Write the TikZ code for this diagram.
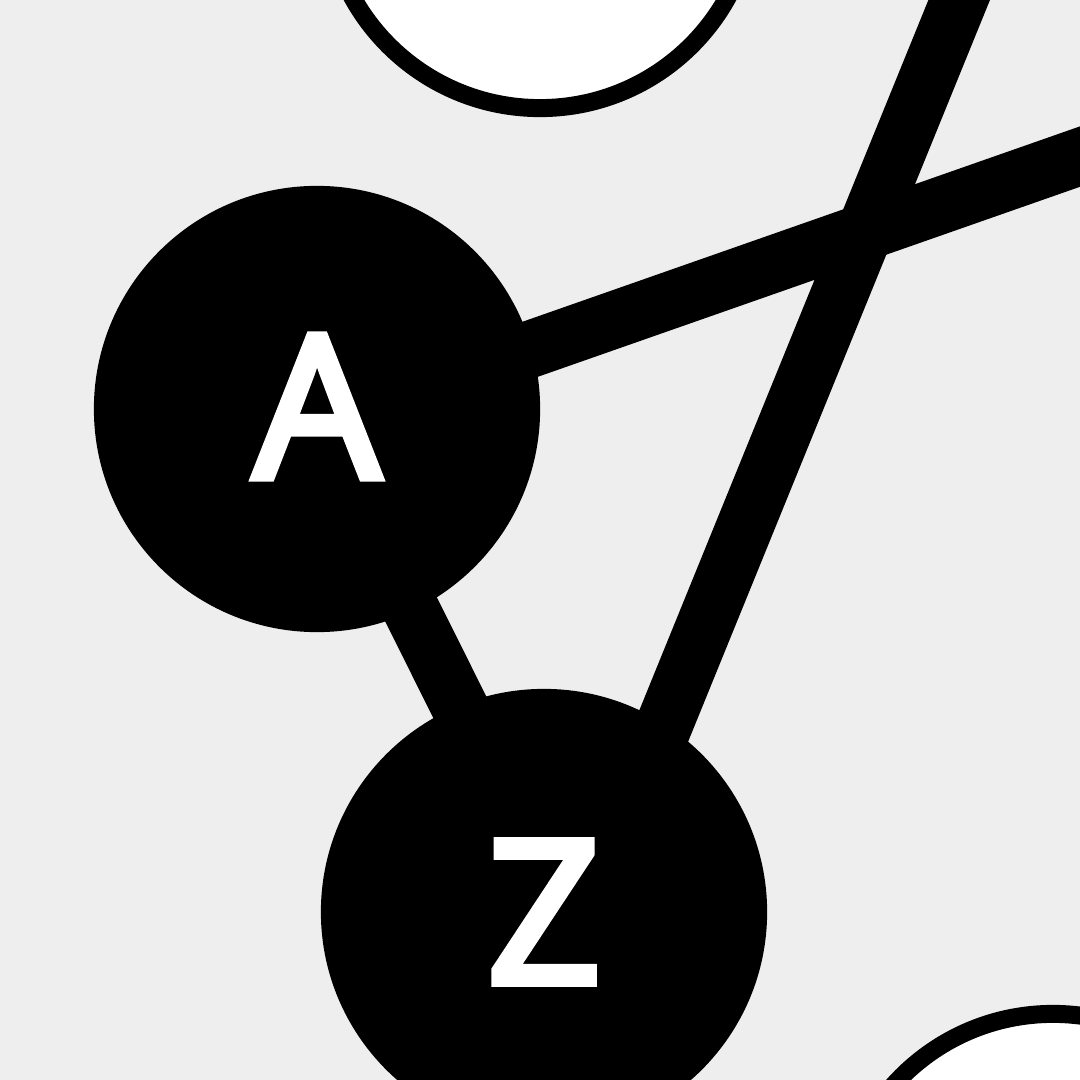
\documentclass[tikz,border=0pt]{standalone}
\usepackage{fontspec}
\newfontfamily\labfont{Open Sans}[FakeBold=4]
\usetikzlibrary{backgrounds}
\definecolor{bg}{HTML}{EEEEEE}
\begin{document}
\begin{tikzpicture}[x=0.01cm,y=-0.01cm,
  nd/.style={circle, draw=black, line width=0.18cm, minimum size=4.28cm, inner sep=0pt},
  blk/.style={nd, fill=black, text=white, font=\labfont\fontsize{56.5}{56.5}\selectfont},
  wht/.style={nd, fill=white},
  edge/.style={line width=0.57cm, draw=black}]
\useasboundingbox (0,0) rectangle (1080,1080);
\clip (0,0) rectangle (1080,1080);
\coordinate (E1) at (1250,97);
\coordinate (E2) at (1008,-120);
\node[wht] (T) at (540,-106) {};
\node[wht] (B) at (1053,1228) {};
\node[blk] (A) at (317,409) {\raisebox{0.05cm}{A}};
\node[blk] (Z) at (544,912) {Z};
\begin{pgfonlayer}{background}
  \fill[bg] (0,0) rectangle (1080,1080);
  \draw[edge] ([shift={(0,15)}]A.center) -- (E1);
  \draw[edge] ([shift={(-6,0)}]A.center) -- ([shift={(18,0)}]Z.center);
  \draw[edge] ([shift={(44,0)}]Z.center) -- (E2);
\end{pgfonlayer}
\end{tikzpicture}
\end{document}
